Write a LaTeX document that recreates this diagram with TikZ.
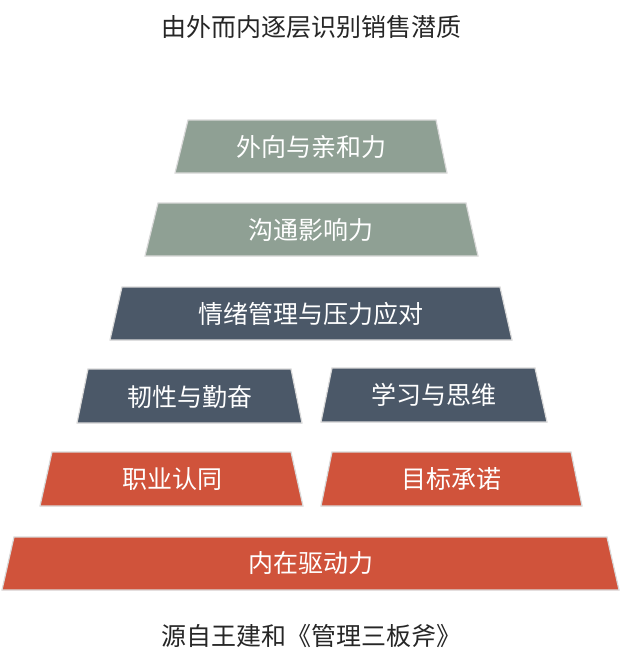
\documentclass[tikz,border=0pt]{standalone}
\usepackage{fontspec}
\setmainfont{Noto Sans CJK SC}
\definecolor{sage}{HTML}{8FA094}
\definecolor{slate}{HTML}{4B5868}
\definecolor{brick}{HTML}{D0533B}
\definecolor{txt}{HTML}{262626}
\tikzset{
  trap/.style={draw=white!85!black, line width=1.2pt},
  lbl/.style={text=white, font=\fontsize{25}{28}\selectfont},
  captext/.style={text=txt, font=\fontsize{25}{28}\selectfont}
}
\newcommand{\trapz}[7]{% fill, ytop, ybot, xtl, xtr, xbl, xbr
  \fill[#1] (#4,#2) -- (#5,#2) -- (#7,#3) -- (#6,#3) -- cycle;
  \draw[trap] (#4,#2) -- (#5,#2) -- (#7,#3) -- (#6,#3) -- cycle;}
\begin{document}
\begin{tikzpicture}[x=1pt,y=-1pt]
\useasboundingbox (0,0) rectangle (622,672);
\node[captext] (title) at (311,27) {由外而内逐层识别销售潜质};
\trapz{sage}{120}{173}{188}{436}{175}{447}
\node[lbl] (a) at (311,147) {外向与亲和力};
\trapz{sage}{203}{256}{158}{466}{145}{478}
\node[lbl] (b) at (311,230) {沟通影响力};
\trapz{slate}{287}{340}{122}{500}{110}{512}
\node[lbl] (c) at (311,314) {情绪管理与压力应对};
\trapz{slate}{369}{423}{88}{291}{77}{302}
\node[lbl] (d) at (190,397) {韧性与勤奋};
\trapz{slate}{368}{422}{332}{535}{321}{547}
\node[lbl] (e) at (434,395) {学习与思维};
\trapz{brick}{452}{506}{52}{291}{40}{303}
\node[lbl] (f) at (172,479) {职业认同};
\trapz{brick}{452}{506}{332}{571}{321}{582}
\node[lbl] (g) at (451,479) {目标承诺};
\trapz{brick}{537}{590}{14}{607}{2}{619}
\node[lbl] (h) at (311,563) {内在驱动力};
\node[captext] (foot) at (311,636) {源自王建和《管理三板斧》};
\end{tikzpicture}
\end{document}
